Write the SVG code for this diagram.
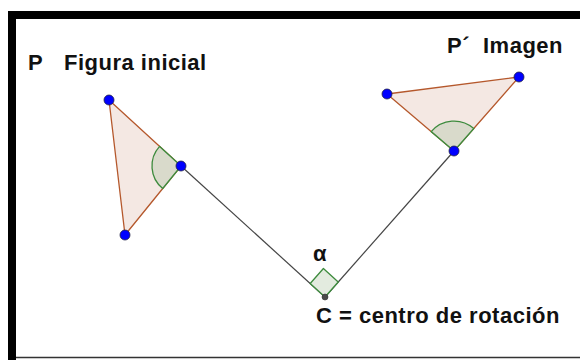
<svg xmlns="http://www.w3.org/2000/svg" width="580" height="360" viewBox="0 0 580 360">
<style>
.tri{fill:#f4e8e3;stroke:#b5582c;stroke-width:1.3;stroke-linejoin:round}
.sec{fill:#d9dacb;stroke:#3d8b3d;stroke-width:1.3}
.pt{fill:#0000ff;stroke:#222244;stroke-width:0.8}
.seg{stroke:#444;stroke-width:1.2;fill:none}
.lbl{font-family:"Liberation Sans",Arial,sans-serif;font-weight:bold;font-size:22px;letter-spacing:0.5px;fill:#111}
</style>
<rect x="0" y="0" width="580" height="360" fill="#fff"/>
<g id="frame">
<rect x="8" y="11" width="572" height="8" fill="#000"/>
<rect x="8" y="11" width="8" height="349" fill="#000"/>
<line x1="16" y1="357.5" x2="580" y2="357.5" stroke="#333" stroke-width="1.5"/>
</g>
<g id="connectors">
<line class="seg" x1="325" y1="297" x2="181" y2="166"/>
<line class="seg" x1="325" y1="297" x2="454" y2="151"/>
</g>
<g id="figura-inicial">
<polygon class="tri" points="109,100 181,166 125,235"/>
<path class="sec" d="M181,166 L159.6,146.4 A29,29 0 0 0 162.7,188.5 Z"/>
<circle class="pt" cx="109" cy="100" r="5"/>
<circle class="pt" cx="181" cy="166" r="5"/>
<circle class="pt" cx="125" cy="235" r="5"/>
<text class="lbl" x="28" y="69.5">P</text>
<text class="lbl" x="64" y="69.5">Figura inicial</text>
</g>
<g id="imagen">
<polygon class="tri" points="387,94 519,77 454,151"/>
<path class="sec" d="M454,151 L431.2,131.6 A30,30 0 0 1 473.8,128.5 Z"/>
<circle class="pt" cx="387" cy="94" r="5"/>
<circle class="pt" cx="519" cy="77" r="5"/>
<circle class="pt" cx="454" cy="151" r="5"/>
<text class="lbl" x="447" y="53">P´</text>
<text class="lbl" x="483" y="53">Imagen</text>
</g>
<g id="centro">
<polygon points="325,297 310.2,283.5 323.4,268.5 338.2,282" fill="#e3ebdf" stroke="#3d8b3d" stroke-width="1.3" stroke-linejoin="round"/>
<circle cx="325" cy="297" r="3" fill="#4a4a4a" stroke="#333" stroke-width="0.6"/>
<text class="lbl" x="313" y="261">α</text>
<text class="lbl" x="316" y="322.5">C = centro de rotación</text>
</g>
</svg>
